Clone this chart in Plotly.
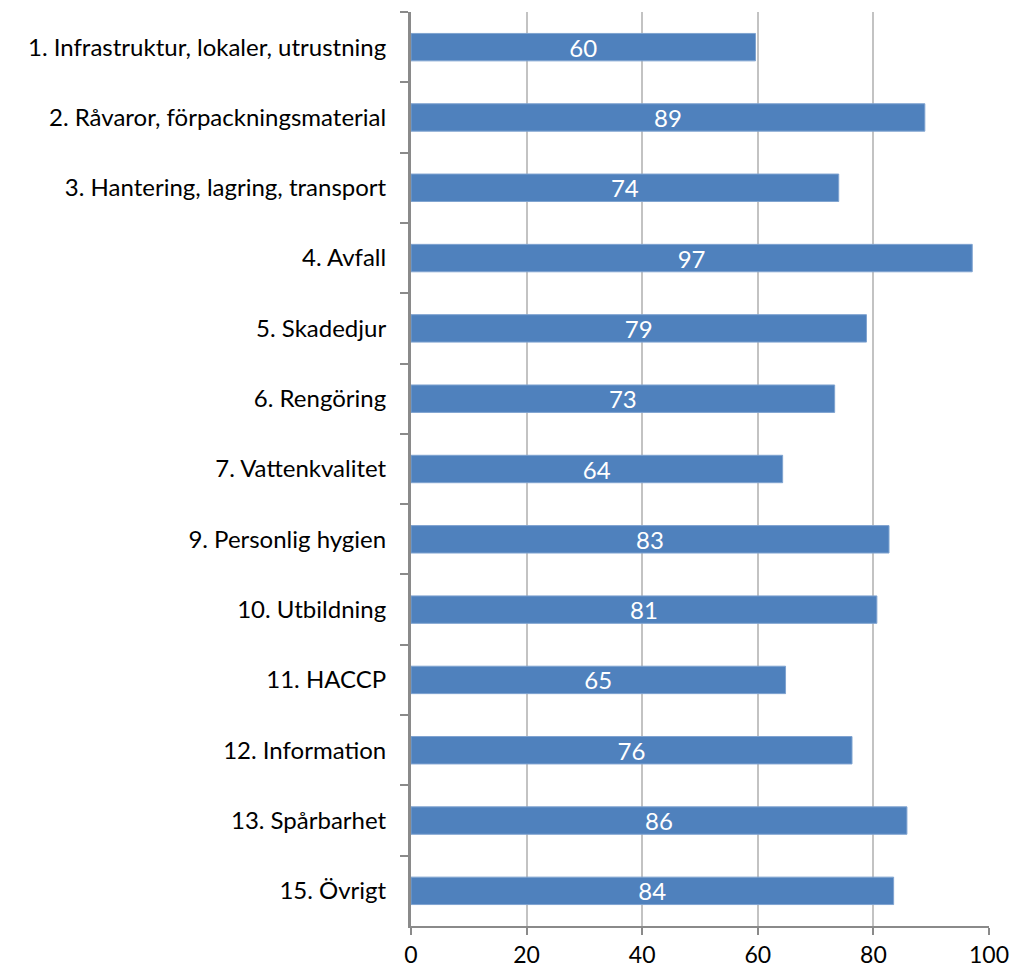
import plotly.graph_objects as go

categories = [
    "1. Infrastruktur, lokaler, utrustning",
    "2. Råvaror, förpackningsmaterial",
    "3. Hantering, lagring, transport",
    "4. Avfall",
    "5. Skadedjur",
    "6. Rengöring",
    "7. Vattenkvalitet",
    "9. Personlig hygien",
    "10. Utbildning",
    "11. HACCP",
    "12. Information",
    "13. Spårbarhet",
    "15. Övrigt",
]
values = [59.6, 88.9, 74.0, 97.1, 78.8, 73.3, 64.3, 82.7, 80.6, 64.8, 76.3, 85.8, 83.5]
x_ticks = [0, 20, 40, 60, 80, 100]

FONT = "Lato, 'Open Sans', sans-serif"
FS = 24

fig = go.Figure(
    go.Bar(
        x=values,
        y=categories,
        orientation="h",
        marker=dict(color="#4f81bd", line=dict(color="#7fa3d0", width=1)),
        width=0.39,
        text=[f"{v:.0f}" for v in values],
        textposition="inside",
        insidetextanchor="middle",
        textangle=0,
        constraintext="none",
        textfont=dict(color="white", size=FS, family=FONT),
        hoverinfo="skip",
    )
)

fig.update_layout(
    width=1012,
    height=969,
    margin=dict(l=411, r=23, t=12, b=43),
    paper_bgcolor="white",
    plot_bgcolor="white",
    showlegend=False,
    font=dict(family=FONT, size=FS, color="black"),
)

fig.update_xaxes(
    range=[0, 100],
    tickvals=x_ticks,
    ticktext=[str(t) for t in x_ticks],
    showgrid=True,
    gridcolor="#c3c3c3",
    gridwidth=2,
    showline=True,
    linecolor="#8a8a8a",
    linewidth=2,
    ticks="outside",
    ticklen=7,
    tickwidth=2,
    tickcolor="#8a8a8a",
    zeroline=False,
    automargin=False,
    tickfont=dict(size=23, color="black"),
)

fig.update_yaxes(
    autorange="reversed",
    showline=True,
    linecolor="#8a8a8a",
    linewidth=3,
    ticks="outside",
    tickson="boundaries",
    ticklen=8,
    tickwidth=2,
    tickcolor="#8a8a8a",
    showgrid=False,
    automargin=False,
    ticklabelstandoff=17,
    tickfont=dict(size=FS, color="black"),
)

fig.write_html("out.html")
